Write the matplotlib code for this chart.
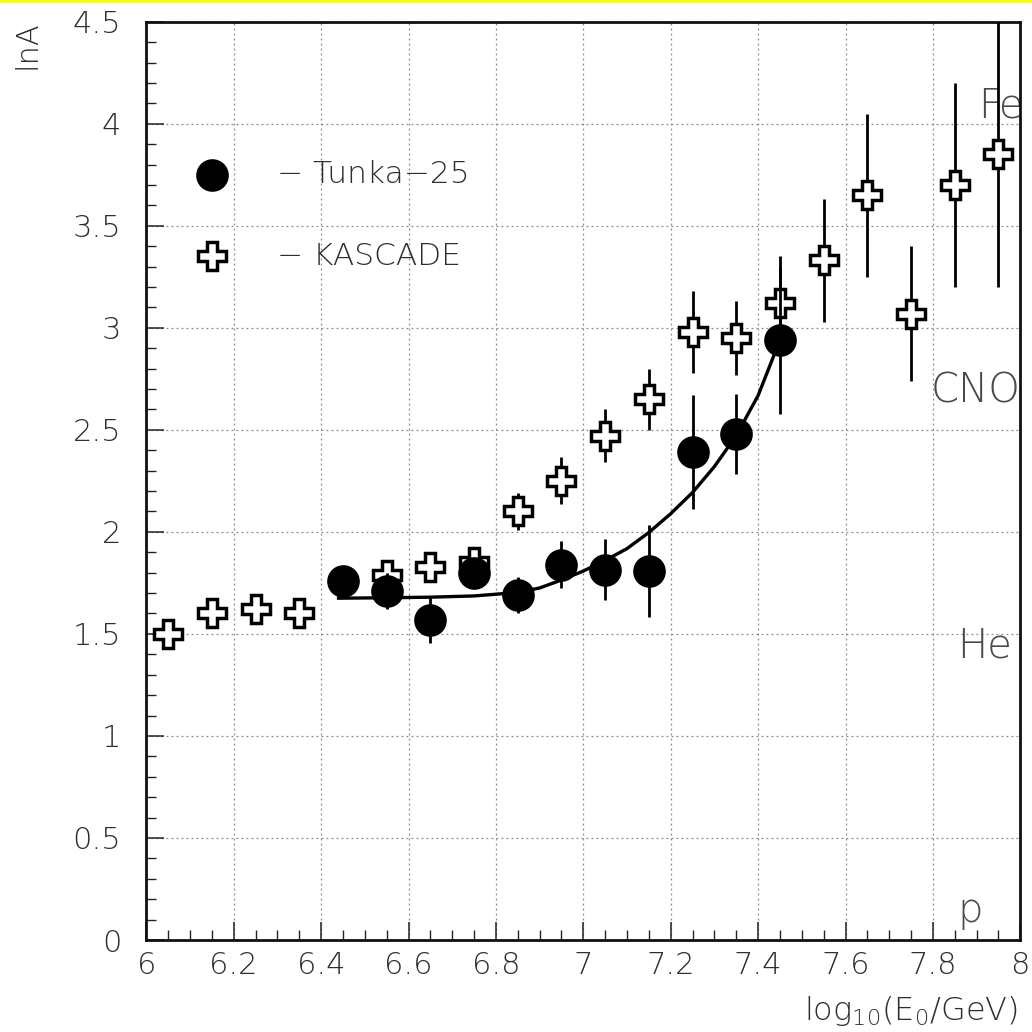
import matplotlib
matplotlib.use("Agg")
import matplotlib.pyplot as plt
from matplotlib.ticker import MultipleLocator
from matplotlib.patches import Rectangle
from matplotlib import font_manager

plt.rcParams['font.family'] = ['DejaVu Sans']
plt.rcParams['mathtext.default'] = 'regular'

# pick a thin face when the system provides one
thin_names = {f.name for f in font_manager.fontManager.ttflist
              if f.name == 'DejaVu Sans' and f.weight in (200, 'extra-light', 'ultralight', 'light')}
TW = 'light' if thin_names else 'normal'
plt.rcParams['font.weight'] = TW
plt.rcParams['mathtext.fontset'] = 'custom'
plt.rcParams['mathtext.rm'] = 'DejaVu Sans:' + TW

# Tunka-25 mean logarithmic mass
tunka_x = [6.45, 6.55, 6.65, 6.75, 6.85, 6.95, 7.05, 7.15, 7.25, 7.35, 7.45]
tunka_y = [1.76, 1.71, 1.57, 1.80, 1.69, 1.84, 1.815, 1.81, 2.39, 2.48, 2.94]
tunka_err = [0.05, 0.09, 0.115, 0.06, 0.09, 0.115, 0.15, 0.225, 0.28, 0.195, 0.36]

# KASCADE mean logarithmic mass
kascade_x = [6.05, 6.15, 6.25, 6.35, 6.55, 6.65, 6.75, 6.85, 6.95, 7.05,
             7.15, 7.25, 7.35, 7.45, 7.55, 7.65, 7.75, 7.85, 7.95]
kascade_y = [1.50, 1.60, 1.62, 1.60, 1.79, 1.83, 1.85, 2.10, 2.25, 2.47,
             2.65, 2.98, 2.95, 3.12, 3.33, 3.65, 3.07, 3.70, 3.85]
kascade_err = [0.03, 0.03, 0.03, 0.03, 0.04, 0.04, 0.04, 0.09, 0.115, 0.13,
               0.15, 0.20, 0.18, 0.23, 0.30, 0.40, 0.33, 0.50, 0.65]

# fitted trend through the Tunka-25 points
fit_x = [6.44, 6.55, 6.65, 6.75, 6.85, 6.90, 6.95, 7.00, 7.05, 7.10,
         7.15, 7.20, 7.25, 7.30, 7.35, 7.40, 7.45]
fit_y = [1.675, 1.677, 1.680, 1.686, 1.703, 1.725, 1.764, 1.808, 1.860, 1.918,
         1.997, 2.089, 2.193, 2.320, 2.472, 2.668, 2.94]

# nuclear group markers on the lnA scale
groups = ["Fe", "CNO", "He", "p"]
group_y = [4.03, 2.635, 1.385, 0.087]

xticks = [6, 6.2, 6.4, 6.6, 6.8, 7, 7.2, 7.4, 7.6, 7.8, 8]
xticklabels = ["6", "6.2", "6.4", "6.6", "6.8", "7", "7.2", "7.4", "7.6", "7.8", "8"]
yticks = [0, 0.5, 1, 1.5, 2, 2.5, 3, 3.5, 4, 4.5]
yticklabels = ["0", "0.5", "1", "1.5", "2", "2.5", "3", "3.5", "4", "4.5"]

W = H = 1032
fig = plt.figure(figsize=(W / 100, H / 100), dpi=100)
fig.patch.set_facecolor('white')
fig.patches.append(Rectangle((0, 1 - 3 / H), 1, 3 / H, transform=fig.transFigure,
                             facecolor='#ffff00', edgecolor='none', zorder=10))

ax = fig.add_axes([146.3 / W, 1 - 940 / H, (1020.3 - 146.3) / W, (940 - 21.7) / H])
ax.set_xlim(6, 8)
ax.set_ylim(0, 4.5)

text_col = '#2e2e2e'
grid_col = '#8a8a8a'

ax.set_xticks(xticks)
ax.set_xticklabels(xticklabels)
ax.set_yticks(yticks)
ax.set_yticklabels(yticklabels)
ax.xaxis.set_minor_locator(MultipleLocator(0.05))
ax.yaxis.set_minor_locator(MultipleLocator(0.1))
ax.tick_params(axis='both', which='major', direction='in', length=13, width=1.1,
               labelsize=22, labelcolor=text_col, color='#222222')
ax.tick_params(axis='both', which='minor', direction='in', length=7, width=1.0,
               color='#222222')
ax.tick_params(axis='y', which='major', pad=18)
ax.tick_params(axis='x', which='major', pad=8)

ax.grid(True, which='major', color=grid_col, linestyle=(0, (1.5, 2.5)), linewidth=0.9)
ax.set_axisbelow(True)
for sp in ax.spines.values():
    sp.set_linewidth(2.0)
    sp.set_color('#111111')

# KASCADE: open crosses
ax.errorbar(kascade_x, kascade_y, yerr=kascade_err, fmt='P', ms=20,
            mfc='white', mec='black', mew=2.5, ecolor='black', elinewidth=2.0,
            capsize=0, zorder=3)

# fit curve
ax.plot(fit_x, fit_y, color='black', lw=2.4, zorder=4)

# Tunka-25: filled circles
ax.errorbar(tunka_x, tunka_y, yerr=tunka_err, fmt='o', ms=23.5,
            mfc='black', mec='black', mew=0, ecolor='black', elinewidth=2.0,
            capsize=0, zorder=5)

# legend drawn inside the frame
ax.plot([6.15], [3.75], 'o', ms=23.5, mfc='black', mec='black', mew=0, zorder=5)
ax.plot([6.15], [3.35], 'P', ms=20, mfc='white', mec='black', mew=2.5, zorder=5)
ax.text(6.30, 3.75, "\u2212 Tunka\u221225", fontsize=22.5, color=text_col,
        va='center', ha='left')
ax.text(6.30, 3.35, "\u2212 KASCADE", fontsize=22.5, color=text_col,
        va='center', ha='left')

# nuclear group labels
group_x = [8.008, 8.0, 7.98, 7.915]
for name, gx, gy in zip(groups, group_x, group_y):
    ax.text(gx, gy, name, fontsize=29, color='#4a4a4a', ha='right', va='baseline',
            clip_on=False, zorder=2)

fig.text(27 / W, 1 - 20 / H, "lnA", rotation=90, fontsize=22, color=text_col,
         ha='center', va='top')
fig.text(1018 / W, 1 - 1028 / H, r"log$_{10}$(E$_{0}$/GeV)", fontsize=23,
         color=text_col, ha='right', va='bottom')

fig.savefig("out.png", dpi=100, facecolor='white')
